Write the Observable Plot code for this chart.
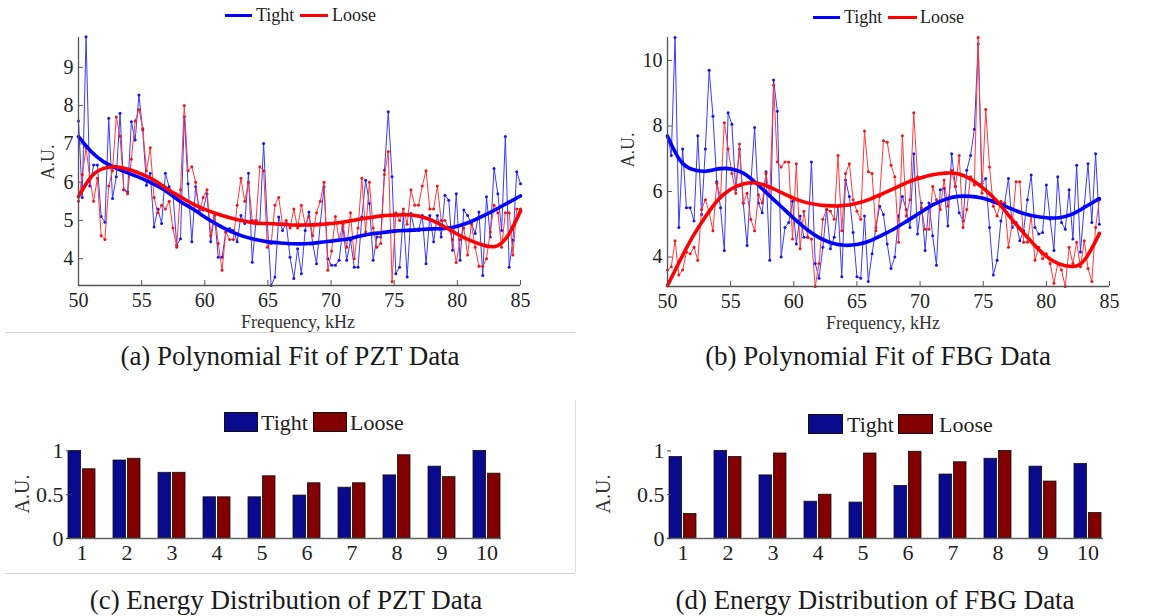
<!DOCTYPE html>
<html>
<head>
<meta charset="utf-8">
<script src="https://cdn.jsdelivr.net/npm/d3@7"></script>
<script src="https://cdn.jsdelivr.net/npm/@observablehq/plot@0.6"></script>
<style>
  body { margin: 0; background: #fff; }
  #page { position: relative; width: 1156px; height: 616px; overflow: hidden; background: #fff;
          font-family: "Liberation Serif", "Times New Roman", serif; color: #111; }
  .panel { position: absolute; }
  .panel svg, .panel svg text { font-family: "Liberation Serif", "Times New Roman", serif !important; }
  .txt { position: absolute; white-space: nowrap; line-height: 1; }
  .center { transform: translate(-50%, -50%); }
  .rot { transform: translate(-50%, -50%) rotate(-90deg); }
  .cap { font-size: 27px; color: #1a1a1a; }
  .leg { font-size: 18px; color: #222; }
  .legbar { font-size: 22px; color: #222; }
  .axl { font-size: 18px; color: #333; }
  .sw { position: absolute; }
  .border { position: absolute; background: #d0d0d0; }
</style>
</head>
<body>
<div id="page"></div>
<script>
// ---------- (a) PZT spectra, Tight / Loose, 50–85 kHz ----------
const pztTight = [7.6, 5.6, 9.8, 5.9, 6.45, 6.45, 5.1, 4.95, 7.67, 5.57,
  6.14, 7.8, 5.8, 5.75, 7.58, 7.1, 8.28, 7.36, 5.92, 6.23,
  4.83, 5.3, 4.92, 6.23, 5.88, 5.7, 4.35, 4.52, 7.71, 5.96,
  4.44, 5.88, 5.27, 5.27, 5.7, 4.44, 5.13, 4.04, 4.04, 4.7,
  4.79, 4.74, 4.44, 5.13, 4.92, 6.23, 3.91, 5.0, 4.92, 7.01,
  4.92, 3.3, 3.52, 5.09, 4.74, 4.92, 4.04, 3.48, 4.26, 3.61,
  4.74, 5.22, 4.39, 3.87, 4.92, 5.88, 4.0, 3.83, 3.83, 3.96,
  4.83, 3.96, 4.48, 3.78, 3.78, 5.09, 6.05, 5.44, 3.96, 4.57,
  4.57, 6.31, 7.84, 6.14, 3.61, 3.78, 5.18, 3.52, 5.18, 4.74,
  4.74, 5.13, 3.87, 5.13, 4.44, 5.13, 4.57, 5.66, 5.53, 4.22,
  5.7, 3.96, 5.27, 5.13, 4.92, 4.66, 5.22, 3.56, 5.62, 4.57,
  6.36, 5.7, 4.74, 7.19, 3.78, 4.48, 6.27, 5.96];
const pztLoose = [5.5, 6.2, 6.9, 6.1, 5.5, 6.1, 4.6, 4.5, 5.9, 6.3,
  7.7, 7.2, 5.8, 5.7, 6.6, 7.6, 7.9, 7.4, 6.3, 6.9,
  5.6, 5.2, 5.4, 5.3, 5.5, 4.8, 4.3, 5.8, 8.0, 6.3,
  6.4, 6.0, 5.2, 5.6, 5.8, 4.6, 5.2, 4.4, 3.7, 4.7,
  4.5, 4.5, 5.4, 6.1, 5.5, 6.0, 5.0, 5.0, 6.4, 6.3,
  4.3, 4.4, 5.4, 5.6, 4.9, 5.0, 4.8, 5.3, 4.8, 5.4,
  4.9, 5.1, 4.6, 5.2, 5.5, 6.0, 3.7, 4.2, 5.1, 4.5,
  4.9, 4.3, 5.2, 4.0, 4.8, 6.1, 4.7, 6.0, 4.8, 4.3,
  4.4, 6.2, 6.8, 3.4, 5.2, 5.0, 5.3, 4.9, 5.8, 5.4,
  5.4, 5.9, 6.3, 5.3, 5.3, 5.9, 5.0, 5.0, 4.8, 4.5,
  3.9, 4.5, 4.8, 4.1, 4.9, 4.3, 3.8, 3.8, 4.0, 4.7,
  5.4, 5.2, 4.3, 5.2, 5.2, 4.1, 5.3, 5.3];
// polynomial fits sampled every 1 kHz
const pztFitFreq = [50, 51, 52, 53, 54, 55, 56, 57, 58, 59, 60, 61, 62, 63, 64, 65, 66, 67,
  68, 69, 70, 71, 72, 73, 74, 75, 76, 77, 78, 79, 80, 81, 82, 83, 84, 85];
const pztFitTight = [7.19, 6.8, 6.53, 6.36, 6.23, 6.1, 5.94, 5.75, 5.51, 5.31, 5.09, 4.89,
  4.72, 4.59, 4.5, 4.44, 4.41, 4.39, 4.39, 4.42, 4.46, 4.5, 4.57, 4.64, 4.68, 4.72, 4.74,
  4.76, 4.78, 4.79, 4.85, 4.96, 5.11, 5.28, 5.46, 5.64];
const pztFitLoose = [5.62, 6.14, 6.36, 6.4, 6.33, 6.21, 6.05, 5.83, 5.63, 5.44, 5.29, 5.17,
  5.07, 4.99, 4.93, 4.92, 4.9, 4.88, 4.88, 4.89, 4.92, 4.96, 5.02, 5.07, 5.12, 5.14, 5.15,
  5.11, 5.0, 4.83, 4.64, 4.48, 4.36, 4.32, 4.6, 5.25];

// ---------- (b) FBG spectra, Tight / Loose, 50–84.2 kHz ----------
const fbgTight = [7.7, 7.1, 10.7, 4.9, 7.3, 5.5, 5.5, 5.1, 7.7, 5.3,
  7.3, 9.7, 8.3, 6.3, 5.5, 4.2, 8.4, 8.05, 6.05, 7.3,
  5.65, 4.35, 6.25, 7.95, 5.65, 5.35, 6.6, 3.9, 9.4, 8.45,
  4.0, 4.9, 5.05, 5.7, 4.4, 5.25, 4.6, 4.6, 6.9, 3.8,
  3.35, 4.3, 5.45, 4.25, 4.6, 5.55, 3.4, 6.35, 5.85, 4.75,
  3.4, 3.35, 5.25, 3.25, 4.1, 4.9, 5.55, 5.3, 4.4, 3.65,
  4.0, 5.25, 5.85, 5.45, 4.9, 7.15, 4.7, 5.65, 4.2, 5.65,
  4.65, 3.75, 6.05, 6.1, 4.95, 7.15, 6.15, 5.35, 5.1, 6.65,
  7.1, 7.9, 10.5, 6.25, 6.4, 4.9, 3.45, 3.9, 5.1, 5.65,
  6.4, 4.9, 5.05, 4.5, 4.8, 5.75, 6.5, 4.9, 4.7, 4.75,
  6.2, 5.15, 4.2, 6.45, 5.05, 4.85, 6.05, 4.55, 6.8, 4.15,
  5.55, 6.85, 5.05, 7.15, 5.0];
const fbgLoose = [3.6, 3.7, 4.5, 3.45, 3.6, 4.15, 4.1, 4.3, 3.9, 5.45,
  5.75, 5.35, 4.8, 6.25, 5.85, 8.1, 7.3, 6.55, 5.95, 7.45,
  5.65, 5.95, 5.15, 4.8, 5.9, 5.65, 6.55, 5.85, 9.25, 6.9,
  6.75, 6.9, 6.9, 4.55, 6.85, 4.25, 5.4, 4.6, 4.55, 3.1,
  3.8, 5.15, 5.45, 5.4, 5.15, 7.1, 4.8, 6.55, 6.85, 5.75,
  5.4, 5.15, 7.85, 6.6, 6.55, 4.8, 5.85, 7.55, 7.5, 6.8,
  6.45, 4.45, 7.7, 5.25, 5.75, 8.4, 6.45, 5.5, 4.85, 4.85,
  6.15, 5.75, 5.45, 6.35, 5.55, 6.65, 6.15, 7.1, 4.9, 5.45,
  6.45, 6.2, 10.7, 5.95, 8.5, 6.75, 5.55, 5.25, 5.7, 5.65,
  4.3, 5.05, 6.3, 6.3, 4.45, 4.45, 5.25, 3.9, 4.3, 3.95,
  4.1, 3.8, 3.2, 3.8, 3.6, 3.1, 4.3, 3.8, 4.45, 3.7,
  4.5, 3.65, 3.25, 4.9, 5.75];
const fbgFitFreq = [50, 51, 52, 53, 54, 55, 56, 57, 58, 59, 60, 61, 62, 63, 64, 65, 66, 67,
  68, 69, 70, 71, 72, 73, 74, 75, 76, 77, 78, 79, 80, 81, 82, 83, 84, 84.2];
const fbgFitTight = [7.69, 6.95, 6.67, 6.62, 6.69, 6.69, 6.56, 6.26, 5.9, 5.54, 5.18, 4.85,
  4.59, 4.43, 4.36, 4.38, 4.49, 4.67, 4.87, 5.11, 5.35, 5.59, 5.76, 5.85, 5.85, 5.79, 5.66,
  5.51, 5.35, 5.25, 5.2, 5.2, 5.3, 5.51, 5.74, 5.78];
const fbgFitLoose = [3.13, 3.9, 4.62, 5.23, 5.74, 6.07, 6.23, 6.26, 6.15, 5.97, 5.79, 5.66,
  5.59, 5.56, 5.57, 5.64, 5.76, 5.93, 6.1, 6.28, 6.41, 6.51, 6.56, 6.54, 6.38, 6.1, 5.74,
  5.28, 4.82, 4.39, 4.02, 3.79, 3.71, 3.9, 4.56, 4.72];

// ---------- (c), (d) normalised energy per band ----------
const bands = [1, 2, 3, 4, 5, 6, 7, 8, 9, 10];
const pztEnergyTight = [1.0, 0.89, 0.75, 0.47, 0.47, 0.49, 0.58, 0.72, 0.82, 1.0];
const pztEnergyLoose = [0.79, 0.91, 0.75, 0.47, 0.71, 0.63, 0.63, 0.95, 0.7, 0.74];
const fbgEnergyTight = [0.93, 1.0, 0.72, 0.42, 0.41, 0.6, 0.73, 0.91, 0.82, 0.85];
const fbgEnergyLoose = [0.28, 0.93, 0.97, 0.5, 0.97, 0.99, 0.87, 1.0, 0.65, 0.29];

const freqTicks = [50, 55, 60, 65, 70, 75, 80, 85];
const pztYTicks = [4, 5, 6, 7, 8, 9];
const fbgYTicks = [4, 6, 8, 10];
const energyYTicks = [0, 0.5, 1];
const plain = d => String(d);

const BLUE = "#0000ff", RED = "#ff0000";
const BAR_BLUE = "#0a0a8e", BAR_RED = "#820000";

const page = document.getElementById("page");

function place(node, left, top) {
  const d = document.createElement("div");
  d.className = "panel";
  d.style.left = left + "px";
  d.style.top = top + "px";
  d.appendChild(node);
  page.appendChild(d);
}
function text(str, x, y, cls) {
  const d = document.createElement("div");
  d.className = "txt " + cls;
  d.style.left = x + "px";
  d.style.top = y + "px";
  d.textContent = str;
  page.appendChild(d);
  return d;
}
function box(cls, x, y, w, h, bg, border) {
  const d = document.createElement("div");
  d.className = cls;
  Object.assign(d.style, {left: x + "px", top: y + "px", width: w + "px", height: h + "px", background: bg});
  if (border) d.style.border = border;
  d.style.boxSizing = "border-box";
  page.appendChild(d);
}

// evenly sampled spectrum → {x, y} rows
function spectrum(start, end, values) {
  const n = values.length;
  return values.map((v, i) => ({x: start + (end - start) * i / (n - 1), y: v}));
}
function zipXY(xs, ys) { return xs.map((x, i) => ({x, y: ys[i]})); }

function spectrumPlot(o) {
  const tight = spectrum(o.xStart, o.xEnd, o.tight);
  const loose = spectrum(o.xStart, o.xEnd, o.loose);
  const fitT = zipXY(o.fitFreq, o.fitTight);
  const fitL = zipXY(o.fitFreq, o.fitLoose);
  return Plot.plot({
    width: o.width, height: o.height,
    marginLeft: o.ml, marginRight: o.mr, marginTop: o.mt, marginBottom: o.mb,
    style: {fontSize: "20px", color: "#222", background: "transparent", overflow: "visible"},
    x: {domain: o.xDomain},
    y: {domain: o.yDomain},
    marks: [
      Plot.line(tight, {x: "x", y: "y", stroke: "#3a3aff", strokeWidth: 1}),
      Plot.dot(tight, {x: "x", y: "y", r: 1.5, fill: "#1414f0", stroke: null}),
      Plot.line(loose, {x: "x", y: "y", stroke: "#ff3a3a", strokeWidth: 1}),
      Plot.dot(loose, {x: "x", y: "y", r: 1.5, fill: "#f01414", stroke: null}),
      Plot.line(fitT, {x: "x", y: "y", stroke: BLUE, strokeWidth: 3.6, curve: "natural"}),
      Plot.line(fitL, {x: "x", y: "y", stroke: RED, strokeWidth: 3.6, curve: "natural"}),
      Plot.ruleY([o.yDomain[0]], {stroke: "#555", strokeWidth: 1.3}),
      Plot.ruleX([o.xDomain[0]], {stroke: "#555", strokeWidth: 1.3}),
      Plot.axisX({ticks: freqTicks, tickFormat: plain, tickSize: -5, tickPadding: 12, label: null, stroke: "#555"}),
      Plot.axisY({ticks: o.yTicks, tickFormat: plain, tickSize: -5, tickPadding: 10, label: null, stroke: "#555"})
    ]
  });
}

function energyPlot(o) {
  const rows = bands.map((b, i) => ({b, t: o.tight[i], l: o.loose[i]}));
  return Plot.plot({
    width: o.width, height: o.height,
    marginLeft: o.ml, marginRight: o.mr, marginTop: o.mt, marginBottom: o.mb,
    style: {fontSize: "22px", color: "#222", background: "transparent", overflow: "visible"},
    x: {type: "band", domain: bands, paddingInner: 0.4, paddingOuter: 0},
    y: {domain: [0, 1.05]},
    marks: [
      Plot.barY(rows, {x: "b", y: "t", fill: BAR_BLUE, stroke: "#111", strokeWidth: 0.8, insetRight: 14.4}),
      Plot.barY(rows, {x: "b", y: "l", fill: BAR_RED, stroke: "#111", strokeWidth: 0.8, insetLeft: 14.4}),
      Plot.ruleY([0], {stroke: "#666", strokeWidth: 1.3}),
      Plot.axisX({tickSize: 0, tickPadding: 6, label: null}),
      Plot.axisY({ticks: energyYTicks, tickFormat: plain, tickSize: -4, tickPadding: 7, label: null, stroke: "#444"})
    ]
  });
}

// (a)
place(spectrumPlot({
  width: 578, height: 340, ml: 78, mr: 58, mt: 37, mb: 55,
  xDomain: [50, 85], yDomain: [3.3, 9.78], yTicks: pztYTicks,
  xStart: 50, xEnd: 85, tight: pztTight, loose: pztLoose,
  fitFreq: pztFitFreq, fitTight: pztFitTight, fitLoose: pztFitLoose
}), 0, 0);

// (b)
place(spectrumPlot({
  width: 576, height: 340, ml: 87, mr: 47, mt: 37, mb: 54,
  xDomain: [50, 85], yDomain: [3.1, 10.7], yTicks: fbgYTicks,
  xStart: 50, xEnd: 84.2, tight: fbgTight, loose: fbgLoose,
  fitFreq: fbgFitFreq, fitTight: fbgFitTight, fitLoose: fbgFitLoose
}), 580, 0);

// (c)
place(energyPlot({width: 578, height: 180, ml: 66, mr: 77, mt: 51, mb: 37,
  tight: pztEnergyTight, loose: pztEnergyLoose}), 0, 395);

// (d)
place(energyPlot({width: 576, height: 180, ml: 87, mr: 53, mt: 51, mb: 37,
  tight: fbgEnergyTight, loose: fbgEnergyLoose}), 580, 395);

// legends of the spectrum panels
box("sw", 225, 13.5, 27, 3.2, BLUE);
text("Tight", 256, 6, "leg");
box("sw", 300, 13.5, 28, 3.2, RED);
text("Loose", 332, 6, "leg");
box("sw", 813, 15.5, 27, 3.2, BLUE);
text("Tight", 844, 8, "leg");
box("sw", 888, 15.5, 29, 3.2, RED);
text("Loose", 920, 8, "leg");

// legends of the energy panels
box("sw", 224, 412, 34, 20, BAR_BLUE, "1px solid #111");
text("Tight", 261, 412, "legbar");
box("sw", 313, 412, 34, 20, BAR_RED, "1px solid #111");
text("Loose", 350, 412, "legbar");
box("sw", 808, 414, 35, 20, BAR_BLUE, "1px solid #111");
text("Tight", 847, 414, "legbar");
box("sw", 898, 414, 35, 20, BAR_RED, "1px solid #111");
text("Loose", 939, 414, "legbar");

// axis titles
text("Frequency, kHz", 298, 322, "axl center");
text("Frequency, kHz", 883, 323, "axl center");
text("A.U.", 48, 162, "axl rot");
text("A.U.", 628, 150, "axl rot");
text("A.U.", 22, 494, "axl rot").style.fontSize = "20px";
text("A.U.", 603, 494, "axl rot").style.fontSize = "20px";

// sub-figure captions
text("(a) Polynomial Fit of PZT Data", 290, 356, "cap center");
text("(b) Polynomial Fit of FBG Data", 878, 356, "cap center");
text("(c) Energy Distribution of PZT Data", 286, 600, "cap center");
text("(d) Energy Distribution of FBG Data", 875, 600, "cap center");

// thin frame edges of the left-hand panels
box("border", 5, 332, 570, 1, "#d4d4d4");
box("border", 5, 573, 570, 1, "#d4d4d4");
box("border", 575, 400, 1, 173, "#e0e0e0");
</script>
</body>
</html>
